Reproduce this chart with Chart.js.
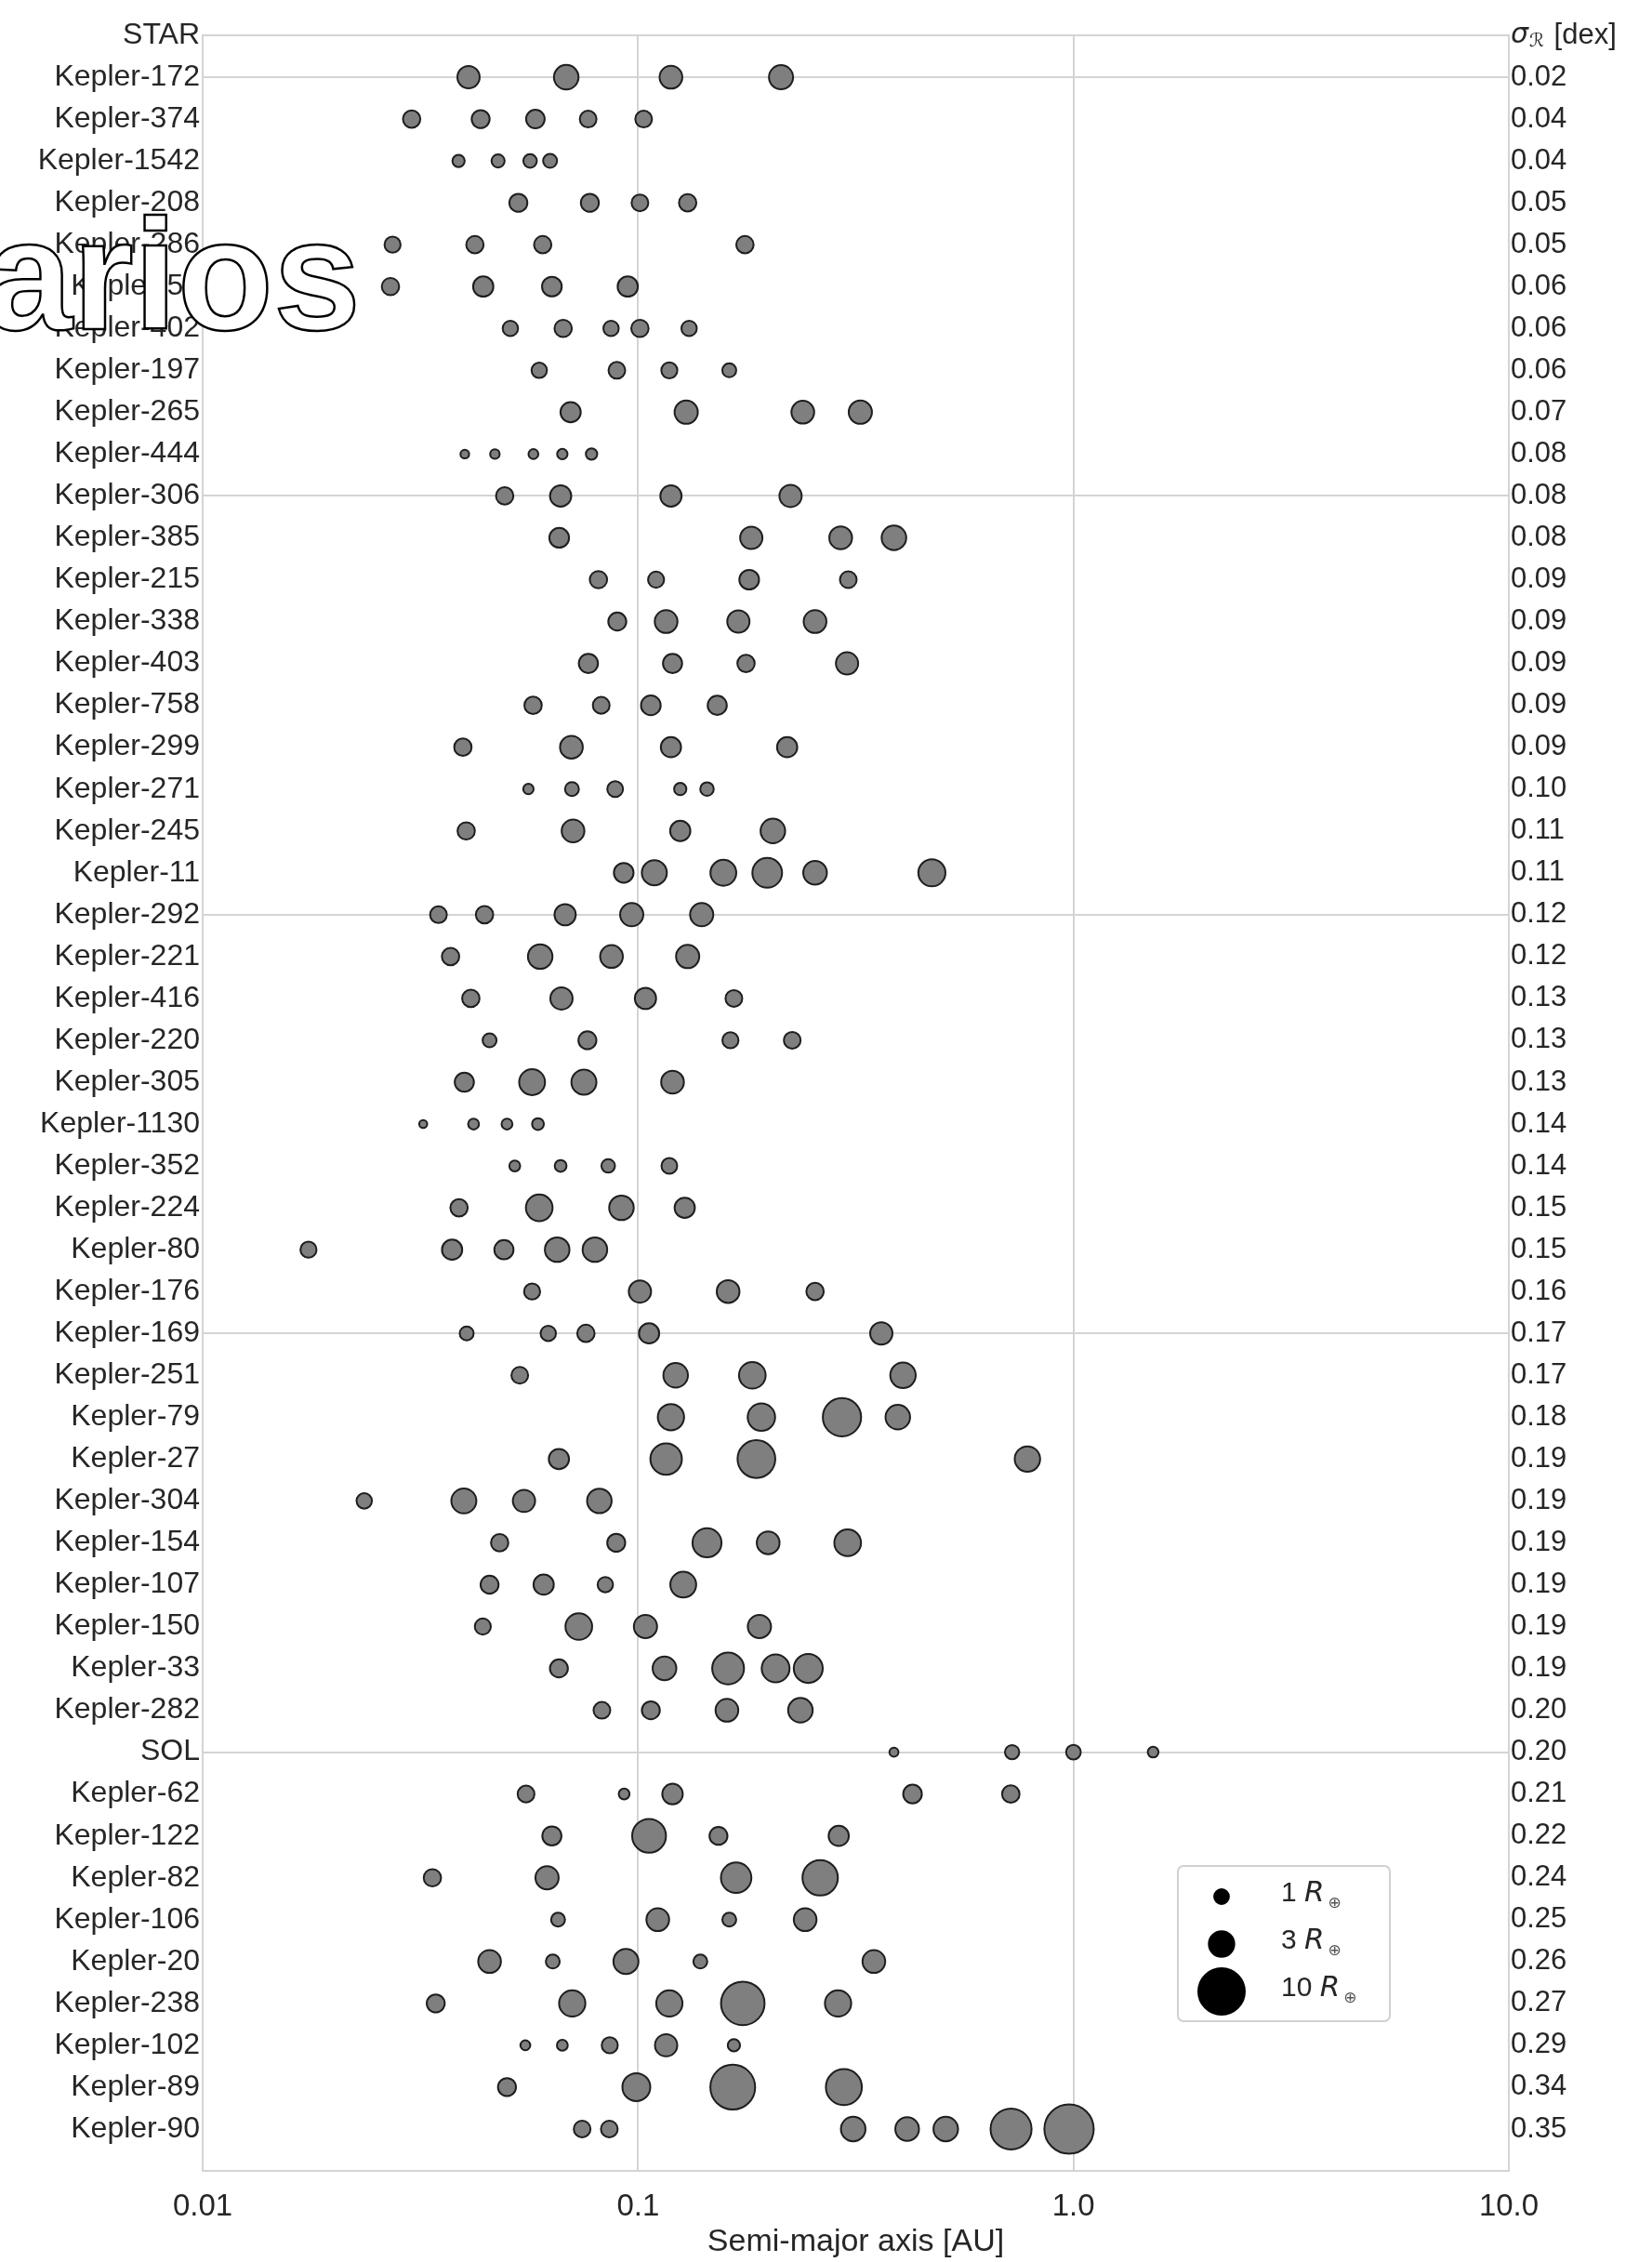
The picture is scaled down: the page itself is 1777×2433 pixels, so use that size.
<!DOCTYPE html>
<html>
<head>
<meta charset="utf-8">
<script src="https://cdn.jsdelivr.net/npm/chart.js@4.4.1/dist/chart.umd.min.js"></script>
<style>
  body { margin: 0; background: #fff; }
  canvas { display: block; }
</style>
</head>
<body>
<canvas id="chart" width="1777" height="2433"></canvas>
<script>
// - - - - - data - - - - -
const systems = [
  'Kepler-172', 'Kepler-374', 'Kepler-1542', 'Kepler-208', 'Kepler-286', 'Kepler-55',
  'Kepler-402', 'Kepler-197', 'Kepler-265', 'Kepler-444', 'Kepler-306', 'Kepler-385',
  'Kepler-215', 'Kepler-338', 'Kepler-403', 'Kepler-758', 'Kepler-299', 'Kepler-271',
  'Kepler-245', 'Kepler-11', 'Kepler-292', 'Kepler-221', 'Kepler-416', 'Kepler-220',
  'Kepler-305', 'Kepler-1130', 'Kepler-352', 'Kepler-224', 'Kepler-80', 'Kepler-176',
  'Kepler-169', 'Kepler-251', 'Kepler-79', 'Kepler-27', 'Kepler-304', 'Kepler-154',
  'Kepler-107', 'Kepler-150', 'Kepler-33', 'Kepler-282', 'SOL', 'Kepler-62',
  'Kepler-122', 'Kepler-82', 'Kepler-106', 'Kepler-20', 'Kepler-238', 'Kepler-102',
  'Kepler-89', 'Kepler-90'
];

const sigmaR = [
  '0.02', '0.04', '0.04', '0.05', '0.05', '0.06', '0.06', '0.06', '0.07', '0.08',
  '0.08', '0.08', '0.09', '0.09', '0.09', '0.09', '0.09', '0.10', '0.11', '0.11',
  '0.12', '0.12', '0.13', '0.13', '0.13', '0.14', '0.14', '0.15', '0.15', '0.16',
  '0.17', '0.17', '0.18', '0.19', '0.19', '0.19', '0.19', '0.19', '0.19', '0.20',
  '0.20', '0.21', '0.22', '0.24', '0.25', '0.26', '0.27', '0.29', '0.34', '0.35'
];

// semi-major axis [AU] of each planet, one list per system
const semiMajor = [
  [0.0408, 0.0684, 0.119, 0.213],
  [0.0302, 0.0435, 0.0581, 0.0768, 0.103],
  [0.0387, 0.0477, 0.0565, 0.0628],
  [0.0531, 0.0775, 0.101, 0.130],
  [0.0273, 0.0422, 0.0604, 0.176],
  [0.0270, 0.0441, 0.0634, 0.0947],
  [0.0509, 0.0673, 0.0867, 0.101, 0.131],
  [0.0593, 0.0894, 0.118, 0.162],
  [0.0700, 0.129, 0.239, 0.324],
  [0.0400, 0.0469, 0.0575, 0.0670, 0.0782],
  [0.0494, 0.0664, 0.119, 0.224],
  [0.0659, 0.182, 0.292, 0.387],
  [0.0811, 0.110, 0.180, 0.304],
  [0.0896, 0.116, 0.170, 0.255],
  [0.0769, 0.120, 0.177, 0.302],
  [0.0574, 0.0823, 0.107, 0.152],
  [0.0396, 0.0703, 0.119, 0.220],
  [0.0560, 0.0705, 0.0886, 0.125, 0.144],
  [0.0403, 0.0709, 0.125, 0.204],
  [0.0927, 0.109, 0.157, 0.198, 0.255, 0.473],
  [0.0348, 0.0444, 0.0680, 0.0967, 0.140],
  [0.0371, 0.0596, 0.0869, 0.130],
  [0.0413, 0.0667, 0.104, 0.166],
  [0.0456, 0.0765, 0.163, 0.226],
  [0.0399, 0.0571, 0.0751, 0.120],
  [0.0321, 0.0419, 0.0500, 0.0589],
  [0.0521, 0.0664, 0.0854, 0.118],
  [0.0388, 0.0593, 0.0916, 0.128],
  [0.0175, 0.0374, 0.0492, 0.0652, 0.0796],
  [0.0571, 0.101, 0.161, 0.255],
  [0.0404, 0.0622, 0.0759, 0.106, 0.362],
  [0.0535, 0.122, 0.183, 0.406],
  [0.119, 0.192, 0.294, 0.395],
  [0.0658, 0.116, 0.187, 0.784],
  [0.0235, 0.0398, 0.0547, 0.0815],
  [0.0481, 0.0891, 0.144, 0.199, 0.303],
  [0.0456, 0.0607, 0.0841, 0.127],
  [0.0440, 0.0731, 0.104, 0.190],
  [0.0658, 0.115, 0.161, 0.207, 0.246],
  [0.0826, 0.107, 0.160, 0.236],
  [0.387, 0.723, 1.0, 1.524],
  [0.0553, 0.0929, 0.120, 0.427, 0.718],
  [0.0634, 0.106, 0.153, 0.289],
  [0.0337, 0.0618, 0.168, 0.262],
  [0.0655, 0.111, 0.162, 0.242],
  [0.0456, 0.0637, 0.0938, 0.139, 0.348],
  [0.0343, 0.0706, 0.118, 0.174, 0.288],
  [0.0551, 0.0670, 0.0861, 0.116, 0.166],
  [0.0500, 0.0991, 0.165, 0.297],
  [0.0744, 0.0859, 0.312, 0.415, 0.509, 0.719, 0.977]
];

// planet radius [Earth radii], same layout as semiMajor
const planetRadius = [
  [2.3, 2.8, 2.4, 2.7],
  [1.4, 1.5, 1.6, 1.3, 1.3],
  [0.7, 0.8, 0.85, 0.9],
  [1.5, 1.5, 1.3, 1.4],
  [1.2, 1.4, 1.4, 1.4],
  [1.4, 1.9, 1.8, 1.9],
  [1.1, 1.4, 1.1, 1.4, 1.1],
  [1.1, 1.3, 1.2, 0.9],
  [1.9, 2.5, 2.4, 2.5],
  [0.35, 0.42, 0.45, 0.5, 0.6],
  [1.4, 2.1, 2.1, 2.3],
  [1.8, 2.3, 2.4, 2.8],
  [1.4, 1.2, 1.8, 1.3],
  [1.5, 2.4, 2.3, 2.4],
  [1.7, 1.7, 1.4, 2.3],
  [1.4, 1.3, 1.8, 1.7],
  [1.4, 2.4, 1.9, 1.9],
  [0.5, 0.9, 1.15, 0.7, 0.85],
  [1.4, 2.4, 1.9, 2.8],
  [1.8, 2.9, 3.1, 4.1, 2.6, 3.4],
  [1.3, 1.4, 2.1, 2.5, 2.5],
  [1.4, 2.8, 2.4, 2.5],
  [1.4, 2.3, 2.1, 1.3],
  [0.9, 1.5, 1.2, 1.3],
  [1.7, 3.1, 2.9, 2.4],
  [0.3, 0.55, 0.55, 0.65],
  [0.55, 0.65, 0.85, 1.15],
  [1.4, 3.3, 2.8, 1.9],
  [1.2, 1.9, 1.7, 2.8, 2.8],
  [1.2, 2.3, 2.4, 1.4],
  [0.9, 1.1, 1.4, 1.9, 2.3],
  [1.3, 2.8, 3.3, 3.0],
  [3.2, 3.5, 6.8, 2.8],
  [1.9, 4.6, 6.6, 3.0],
  [1.1, 2.9, 2.3, 2.8],
  [1.4, 1.5, 3.9, 2.4, 3.3],
  [1.5, 1.9, 1.1, 3.1],
  [1.2, 3.3, 2.5, 2.5],
  [1.5, 2.6, 4.7, 3.6, 3.9],
  [1.3, 1.5, 2.4, 2.8],
  [0.38, 0.95, 1.0, 0.53],
  [1.31, 0.54, 1.95, 1.61, 1.41],
  [1.7, 5.3, 1.5, 1.9],
  [1.4, 2.5, 4.3, 5.8],
  [0.9, 2.4, 0.9, 2.4],
  [2.4, 0.9, 2.9, 0.9, 2.4],
  [1.5, 3.2, 3.2, 8.8, 3.2],
  [0.45, 0.55, 1.2, 2.3, 0.7],
  [1.5, 3.6, 9.3, 6.0],
  [1.3, 1.3, 2.8, 2.6, 2.8, 7.8, 11.3]
];

const xTicks = [0.01, 0.1, 1, 10];
const xTickLabels = ['0.01', '0.1', '1.0', '10.0'];
const legendSizes = [1, 3, 10];

// - - - - - chart - - - - -
const TEXT = '#262626';
const GRID = '#d4d4d4';
const FONT = '"Liberation Sans", Arial, sans-serif';
const SIZE_K = 7.9;   // px per sqrt(R_earth)
const sizeOf = (R) => SIZE_K * Math.sqrt(R);

Chart.defaults.font.family = FONT;
Chart.defaults.color = TEXT;

const rowLabels = ['STAR', ...systems];
const gridRows = [-1, 0, 10, 20, 30, 40];

const points = [];
semiMajor.forEach((row, i) => {
  row.forEach((a, j) => {
    points.push({ x: a, y: i, r: sizeOf(planetRadius[i][j]) });
  });
});

const overlay = {
  id: 'overlay',
  afterDraw(chart) {
    const ctx = chart.ctx;
    const area = chart.chartArea;
    const yTop = chart.scales.y.getPixelForValue(-1);

    // sigma header on the right
    ctx.save();
    ctx.fillStyle = TEXT;
    ctx.textBaseline = 'middle';
    let x = area.right + 2;
    ctx.font = 'italic 30px "DejaVu Sans"';
    ctx.fillText('σ', x, yTop);
    x += ctx.measureText('σ').width + 1;
    ctx.font = 'italic 20px "DejaVu Sans"';
    ctx.fillText('ℛ', x, yTop + 7);
    x += ctx.measureText('ℛ').width + 2;
    ctx.font = '31px ' + FONT;
    ctx.fillText(' [dex]', x, yTop);
    ctx.restore();

    // size legend
    ctx.save();
    ctx.beginPath();
    ctx.roundRect(1267, 2007, 228, 167, 6);
    ctx.fillStyle = 'rgba(255,255,255,0.9)';
    ctx.fill();
    ctx.lineWidth = 2;
    ctx.strokeStyle = '#d0d0d0';
    ctx.stroke();
    const rowsY = [2040, 2091, 2142];
    legendSizes.forEach((R, k) => {
      const cy = rowsY[k];
      ctx.beginPath();
      ctx.arc(1314, cy, sizeOf(R), 0, Math.PI * 2);
      ctx.fillStyle = '#000';
      ctx.fill();
      ctx.lineWidth = 2;
      ctx.strokeStyle = '#000';
      ctx.stroke();
      ctx.fillStyle = TEXT;
      ctx.textBaseline = 'middle';
      let tx = 1378;
      ctx.font = '30px ' + FONT;
      const num = R + ' ';
      ctx.fillText(num, tx, cy - 3);
      tx += ctx.measureText(num).width;
      ctx.font = 'italic 31px "DejaVu Sans"';
      ctx.fillText('R', tx, cy - 3);
      tx += ctx.measureText('R').width + 4;
      ctx.font = '17px "DejaVu Sans"';
      ctx.fillStyle = '#555';
      ctx.fillText('⊕', tx, cy + 8);
    });
    ctx.restore();

    // outlined overlay word
    ctx.save();
    ctx.font = 'bold 169px ' + FONT;
    ctx.textBaseline = 'alphabetic';
    ctx.fillStyle = '#fff';
    ctx.strokeStyle = '#000';
    ctx.lineWidth = 2.5;
    ctx.fillText('arios', -16, 354);
    ctx.strokeText('arios', -16, 354);
    ctx.restore();
  }
};

new Chart(document.getElementById('chart'), {
  type: 'bubble',
  data: {
    datasets: [{
      data: points,
      backgroundColor: '#7f7f7f',
      borderColor: '#1e1e1e',
      borderWidth: 2,
      hoverBorderWidth: 2,
      hoverRadius: 0,
      clip: false
    }]
  },
  options: {
    responsive: false,
    animation: false,
    devicePixelRatio: 1,
    events: [],
    layout: { padding: { top: 38, left: 0, right: 0, bottom: 0 } },
    plugins: { legend: { display: false }, tooltip: { enabled: false } },
    scales: {
      x: {
        type: 'logarithmic',
        min: 0.01,
        max: 10,
        afterBuildTicks: (s) => { s.ticks = xTicks.map(v => ({ value: v })); },
        afterFit: (s) => { s.height = 98; },
        ticks: {
          callback: (v) => xTickLabels[xTicks.indexOf(v)],
          font: { size: 33 },
          color: TEXT,
          padding: 19,
          maxRotation: 0
        },
        grid: { color: GRID, lineWidth: 2, drawTicks: false },
        border: { color: GRID, width: 2 },
        title: {
          display: true,
          text: 'Semi-major axis [AU]',
          font: { size: 34 },
          color: TEXT,
          padding: { top: 0, bottom: 1 }
        }
      },
      y: {
        type: 'linear',
        position: 'left',
        min: -1,
        max: 50,
        reverse: true,
        afterBuildTicks: (s) => {
          s.ticks = [];
          for (let v = -1; v <= 50; v++) s.ticks.push({ value: v });
        },
        afterFit: (s) => { s.width = 218; },
        ticks: {
          autoSkip: false,
          callback: (v) => rowLabels[v + 1] || '',
          font: { size: 32 },
          color: TEXT,
          padding: 3
        },
        grid: {
          color: (c) => gridRows.includes(c.tick.value) ? GRID : 'rgba(0,0,0,0)',
          lineWidth: 2,
          drawTicks: false
        },
        border: { color: GRID, width: 2 }
      },
      y2: {
        type: 'linear',
        position: 'right',
        min: -1,
        max: 50,
        reverse: true,
        afterBuildTicks: (s) => {
          s.ticks = [];
          for (let v = -1; v <= 50; v++) s.ticks.push({ value: v });
        },
        afterFit: (s) => { s.width = 154; },
        ticks: {
          autoSkip: false,
          callback: (v) => (v >= 0 && sigmaR[v]) ? sigmaR[v] : '',
          font: { size: 31 },
          color: TEXT,
          padding: 2
        },
        grid: { display: false, drawTicks: false },
        border: { color: GRID, width: 2 }
      }
    }
  },
  plugins: [overlay]
});
</script>
</body>
</html>
